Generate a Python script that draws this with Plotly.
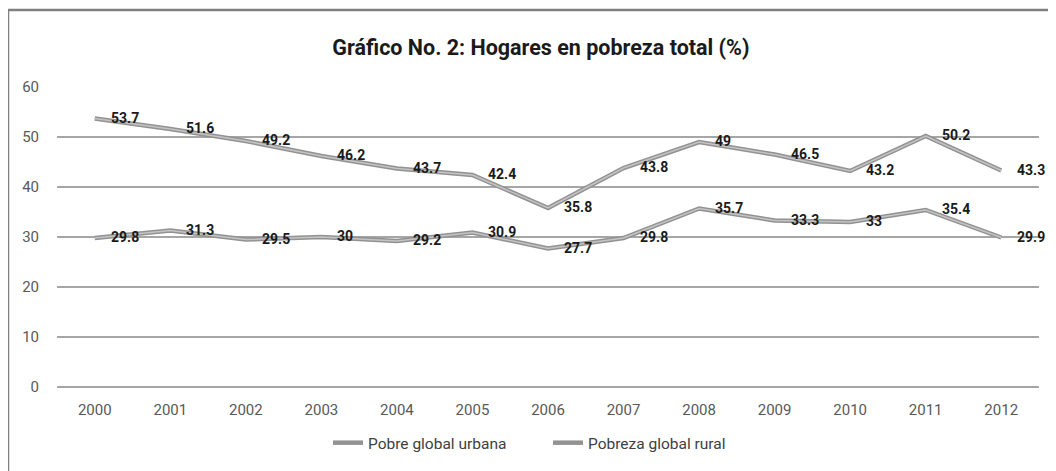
import plotly.graph_objects as go

years = [2000, 2001, 2002, 2003, 2004, 2005, 2006, 2007, 2008, 2009, 2010, 2011, 2012]
urbana = [29.8, 31.3, 29.5, 30, 29.2, 30.9, 27.7, 29.8, 35.7, 33.3, 33, 35.4, 29.9]
rural = [53.7, 51.6, 49.2, 46.2, 43.7, 42.4, 35.8, 43.8, 49, 46.5, 43.2, 50.2, 43.3]
urbana_name = "Pobre global urbana"
rural_name = "Pobreza global rural"
title_text = "Gráfico No. 2: Hogares en pobreza total (%)"
y_ticks = [0, 10, 20, 30, 40, 50, 60]

FONT = "Roboto, Liberation Sans, Arial, sans-serif"

fig = go.Figure()
for name, vals in [(urbana_name, urbana), (rural_name, rural)]:
    fig.add_trace(go.Scatter(x=years, y=vals, mode="lines", name=name,
                             line=dict(color="#929292", width=4.5), showlegend=True))
    fig.add_trace(go.Scatter(x=years, y=vals, mode="lines", name=name,
                             line=dict(color="#c4c4c4", width=1.5), showlegend=False,
                             hoverinfo="skip"))

annotations = []
for vals in (urbana, rural):
    for yr, v in zip(years, vals):
        annotations.append(dict(x=yr, y=v, xref="x", yref="y", text=f"<b>{v:g}</b>",
                                showarrow=False, xanchor="left", yanchor="middle",
                                xshift=14, yshift=1,
                                font=dict(family=FONT, size=14, color="#1a1a1a")))

fig.update_layout(
    width=1056, height=471,
    margin=dict(l=49, r=25, t=79, b=92),
    paper_bgcolor="white", plot_bgcolor="white",
    title=dict(text="<b>" + title_text + "</b>", x=0.5047, xanchor="center",
               y=0.917, yanchor="middle", xref="container",
               font=dict(family=FONT, size=21.5, color="#1a1a1a")),
    font=dict(family=FONT),
    xaxis=dict(range=[1999.5, 2012.5], tickvals=years, showgrid=False, showline=False,
               ticks="", zeroline=False, ticklabelstandoff=12,
               tickfont=dict(family=FONT, size=15, color="#595959")),
    yaxis=dict(range=[0, 60], tickvals=y_ticks, showgrid=True, gridcolor="#a6a6a6",
               gridwidth=1.5, zeroline=True, zerolinecolor="#a6a6a6", zerolinewidth=1.5,
               showline=False, ticks="", ticklen=0, ticklabelstandoff=17,
               tickfont=dict(family=FONT, size=15, color="#595959")),
    legend=dict(orientation="h", x=0.5, xanchor="center", y=-0.187, yanchor="middle",
                font=dict(family=FONT, size=15.5, color="#404040"),
                entrywidth=175, entrywidthmode="pixels",
                itemwidth=30, tracegroupgap=0),
    annotations=annotations,
    shapes=[
        dict(type="line", xref="paper", yref="paper", x0=-0.0499, x1=1.2, y0=1.2567, y1=1.2567,
             line=dict(color="#808080", width=2.5)),
        dict(type="line", xref="paper", yref="paper", x0=-0.0499, x1=-0.0499, y0=1.2567, y1=-0.5,
             line=dict(color="#808080", width=2.5)),
    ],
)

fig.write_html("out.html")
